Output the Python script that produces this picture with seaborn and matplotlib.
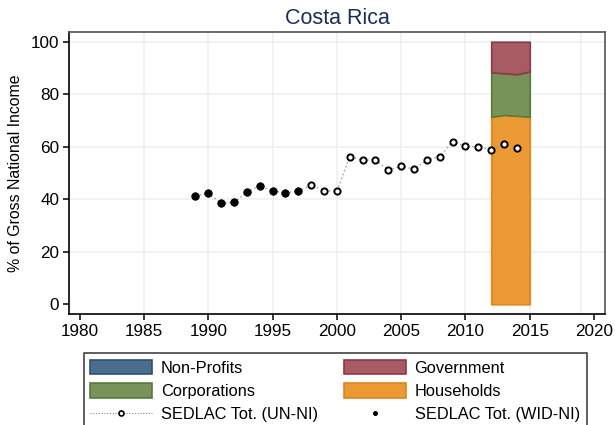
import matplotlib
matplotlib.use("Agg")
import matplotlib.pyplot as plt
import seaborn as sns
import pandas as pd
from matplotlib.patches import Patch
from matplotlib.lines import Line2D

# SEDLAC totals, share of gross national income (%)
years_un = [1989, 1990, 1991, 1992, 1993, 1994, 1995, 1996, 1997, 1998, 1999, 2000, 2001,
            2002, 2003, 2004, 2005, 2006, 2007, 2008, 2009, 2010, 2011, 2012, 2013, 2014]
share_un = [41.4, 42.2, 38.5, 38.9, 42.7, 45.2, 43.1, 42.5, 43.1, 45.4, 43.2, 43.1, 56.2,
            54.9, 55.0, 51.1, 52.6, 51.5, 55.0, 56.2, 61.9, 60.1, 60.0, 58.8, 61.2, 59.4]
years_wid = [1989, 1990, 1991, 1992, 1993, 1994, 1995, 1996, 1997]
share_wid = [41.4, 42.2, 38.5, 38.9, 42.7, 45.2, 43.1, 42.5, 43.1]

# Sector shares of national income (%)
sector_years = [2012, 2013, 2014, 2015]
households = [71.4, 72.1, 71.8, 71.4]
corporations = [16.9, 15.9, 15.8, 17.3]
government = [11.7, 12.0, 12.4, 11.3]
nonprofits = [0.0, 0.0, 0.0, 0.0]

x_ticks = [1980, 1985, 1990, 1995, 2000, 2005, 2010, 2015, 2020]
y_ticks = [0, 20, 40, 60, 80, 100]

COL = {
    "Non-Profits": ("#4a6d8e", "#2e5173"),
    "Government": ("#a65c62", "#8c3a46"),
    "Corporations": ("#77935a", "#5a7a3c"),
    "Households": ("#ea9934", "#e0861a"),
}

sns.set_theme(style="white")
plt.rcParams["font.family"] = ["Liberation Sans", "DejaVu Sans"]
plt.rcParams.update({"text.color": "black", "axes.labelcolor": "black",
                     "xtick.color": "black", "ytick.color": "black"})

fig = plt.figure(figsize=(6.15, 4.25), dpi=100)
ax = fig.add_axes([69.3 / 615, 1 - 314 / 425, (605 - 69.3) / 615, (314 - 32) / 425])

grid_c = "#e9f1f2"
for gx in [1985, 1990, 1995, 2000, 2005, 2010, 2015, 2019]:
    ax.axvline(gx, color=grid_c, lw=1.1, zorder=0)
for gy in [20, 40, 60, 80, 100]:
    ax.axhline(gy, color=grid_c, lw=1.1, zorder=0)

# stacked sector areas
sec = pd.DataFrame({"year": sector_years, "hh": households, "corp": corporations,
                    "gov": government, "np": nonprofits})
base = [0.0] * len(sec)
for key, name in [("hh", "Households"), ("corp", "Corporations"),
                  ("gov", "Government"), ("np", "Non-Profits")]:
    top = [b + v for b, v in zip(base, sec[key])]
    if max(sec[key]) > 0:
        fc, ec = COL[name]
        ax.fill_between(sec["year"], base, top, facecolor=fc, edgecolor=ec, lw=1.2, zorder=2)
    base = top

un = pd.DataFrame({"year": years_un, "share": share_un})
wid = pd.DataFrame({"year": years_wid, "share": share_wid})

sns.lineplot(data=un, x="year", y="share", ax=ax, color="#9a9a9a", lw=1.0,
             linestyle=(0, (1, 2)), zorder=3)
sns.scatterplot(data=un, x="year", y="share", ax=ax, s=20, facecolor="white",
                edgecolor="black", linewidth=1.4, zorder=4)
sns.scatterplot(data=wid, x="year", y="share", ax=ax, s=26, color="black",
                edgecolor="black", linewidth=0.5, zorder=5)

ax.set_xlim(1979.19, 2020.85)
ax.set_ylim(-3.7, 103.7)
ax.set_xticks(x_ticks)
ax.set_yticks(y_ticks)
ax.set_xlabel("")
ax.set_ylabel("% of Gross National Income", fontsize=11.4, color="black")
ax.yaxis.set_label_coords(-0.087, 0.5)
ax.tick_params(axis="both", which="major", labelsize=12.3, length=4.5, width=1.1,
               color="black", labelcolor="black", direction="out", bottom=True, left=True)
ax.tick_params(axis="x", pad=3)
ax.tick_params(axis="y", pad=2.8)

for side in ["left", "bottom"]:
    ax.spines[side].set_color("black")
    ax.spines[side].set_linewidth(1.2)
for side in ["top", "right"]:
    ax.spines[side].set_color("#555555")
    ax.spines[side].set_linewidth(1.2)

ax.set_title("Costa Rica", fontsize=15.5, color="#1f2d56", pad=5.5)

handles = [
    Patch(facecolor=COL["Non-Profits"][0], edgecolor=COL["Non-Profits"][1], lw=1.2, label="Non-Profits"),
    Patch(facecolor=COL["Corporations"][0], edgecolor=COL["Corporations"][1], lw=1.2, label="Corporations"),
    Line2D([0], [0], color="#8a8a8a", lw=0.8, linestyle=(0, (1, 1.5)), marker="o", ms=3.6,
           mfc="white", mec="black", mew=1.2, label="SEDLAC Tot. (UN-NI)"),
    Patch(facecolor=COL["Government"][0], edgecolor=COL["Government"][1], lw=1.2, label="Government"),
    Patch(facecolor=COL["Households"][0], edgecolor=COL["Households"][1], lw=1.2, label="Households"),
    Line2D([0], [0], ls="none", marker="o", ms=2.6, color="black", label="SEDLAC Tot. (WID-NI)"),
]
leg = fig.legend(handles=handles, ncol=2, loc="upper left",
                 bbox_to_anchor=(83.5 / 615, 1 - 352.7 / 425), borderaxespad=0,
                 fontsize=11.8, frameon=True, fancybox=False, labelcolor="black",
                 handlelength=3.76, handleheight=1.0, handletextpad=0.54,
                 labelspacing=0.45, columnspacing=1.6, borderpad=0.42)
leg.get_frame().set_edgecolor("black")
leg.get_frame().set_linewidth(1.1)

fig.savefig("out.png", dpi=100)
